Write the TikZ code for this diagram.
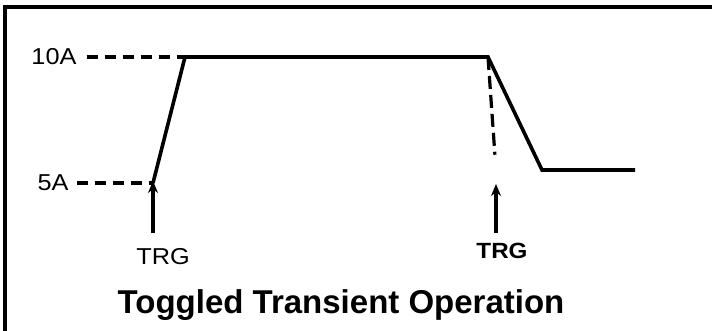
\documentclass[tikz,border=0pt]{standalone}
\usepackage{fontspec}
\setmainfont{Liberation Sans}
\newfontfamily\widesans[FakeStretch=1.1]{Liberation Sans}
\usepackage{tikz}
\usetikzlibrary{arrows.meta, positioning}

\begin{document}
\begin{tikzpicture}[x=1pt, y=-1pt,
    wave/.style={line width=3.6pt, line join=miter},
    guide/.style={line width=3.2pt, dash pattern=on 11pt off 7pt},
    trg/.style={line width=3.4pt, -{Stealth[length=12pt, width=10pt]}},
    lbl/.style={font=\widesans\fontsize{23}{26}\selectfont, inner sep=0pt}]
    \useasboundingbox (0,0) rectangle (712,331);
    \draw[line width=3.4pt] (5,345) |- (725,7);
    % current levels
    \node[lbl] (ten) at (54,57) {10A};
    \node[lbl] (five) at (53,183) {5A};
    \coordinate (lo) at (153,183);
    \coordinate (hi) at (185,57);
    \coordinate (fall) at (488,57);
    \coordinate (low) at (542,170);
    \coordinate (tail) at (635,170);
    \coordinate (mark) at (496,170);
    \draw[guide] (ten.east) ++(10,0) -- (hi);
    \draw[guide] (five.east) ++(8,0) -- (lo);
    \draw[wave] (lo) -- (hi) -- (fall) -- (low) -- (tail);
    \draw[guide, dash pattern=on 13pt off 6pt on 13pt off 6pt on 13pt off 6pt on 13pt off 6pt on 13pt off 6pt on 3pt off 20pt] (fall) -- (mark);
    % trigger marks
    \node[lbl] (trga) at (163,257) {TRG};
    \node[lbl, font=\widesans\fontsize{22}{25}\selectfont\bfseries] (trgb) at (502,251) {TRG};
    \coordinate (sa) at (153,233);
    \coordinate (sb) at (496,233);
    \draw[trg] (sa) -- ([yshift=2pt]lo);
    \draw[trg] (sb) -- (496,184);
    \node[font=\fontsize{33}{38}\selectfont\bfseries, inner sep=0pt] (title) at (341,305) {Toggled Transient Operation};
\end{tikzpicture}
\end{document}
